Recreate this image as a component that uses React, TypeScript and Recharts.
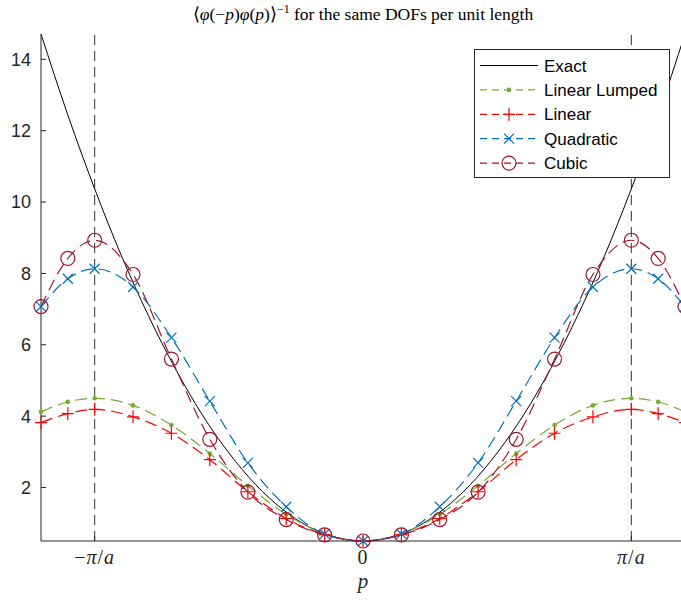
import React from "react";
import { LineChart, Line, XAxis, YAxis, ReferenceLine, Legend } from "recharts";

// p is given in units of pi/a
const markerP = [-1.2, -1.1, -1, -0.857, -0.714, -0.571, -0.429, -0.286, -0.143, 0, 0.143, 0.286, 0.429, 0.571, 0.714, 0.857, 1, 1.1, 1.2];
const lumped = [4.12, 4.4, 4.5, 4.3, 3.75, 2.95, 2.05, 1.25, 0.7, 0.5, 0.7, 1.25, 2.05, 2.95, 3.75, 4.3, 4.5, 4.4, 4.12];
const linear = [3.82, 4.07, 4.19, 3.98, 3.52, 2.78, 1.88, 1.13, 0.68, 0.5, 0.68, 1.13, 1.88, 2.78, 3.52, 3.98, 4.19, 4.07, 3.82];
const quadratic = [7.07, 7.85, 8.13, 7.62, 6.2, 4.42, 2.69, 1.46, 0.7, 0.5, 0.7, 1.46, 2.69, 4.42, 6.2, 7.62, 8.13, 7.85, 7.07];
const cubic = [7.07, 8.42, 8.93, 7.97, 5.6, 3.35, 1.87, 1.1, 0.67, 0.5, 0.67, 1.1, 1.87, 3.35, 5.6, 7.97, 8.93, 8.42, 7.07];

const exactP = [-1.2, -1.1, -1, -0.9, -0.8, -0.7, -0.6, -0.5, -0.4, -0.3, -0.2, -0.1, 0, 0.1, 0.2, 0.3, 0.4, 0.5, 0.6, 0.7, 0.8, 0.9, 1, 1.1, 1.2];
const exact = [14.71, 12.44, 10.37, 8.49, 6.82, 5.34, 4.05, 2.97, 2.08, 1.39, 0.89, 0.6, 0.5, 0.6, 0.89, 1.39, 2.08, 2.97, 4.05, 5.34, 6.82, 8.49, 10.37, 12.44, 14.71];

const xTicks = [-1, 0, 1];
const yTicks = [2, 4, 6, 8, 10, 12, 14];

const C_EXACT = "#000000";
const C_LUMPED = "#77AC30";
const C_LINEAR = "#FF0000";
const C_QUAD = "#0072BD";
const C_CUBIC = "#A2142F";
const AXIS = "#262626";
const DASH = "12 6";

const rows = markerP.map((p, i) => ({
  p,
  lumped: lumped[i],
  linear: linear[i],
  quadratic: quadratic[i],
  cubic: cubic[i],
}));
const exactRows = exactP.map((p, i) => ({ p, exact: exact[i] }));

const dotMark = (cx: number, cy: number, k: string) => (
  <circle key={k} cx={cx} cy={cy} r={2.3} fill={C_LUMPED} stroke="none" />
);
const plusMark = (cx: number, cy: number, k: string) => (
  <path key={k} d={`M${cx - 6},${cy}H${cx + 6}M${cx},${cy - 6.5}V${cy + 6.5}`} stroke={C_LINEAR} strokeWidth={1.2} fill="none" />
);
const crossMark = (cx: number, cy: number, k: string) => (
  <path key={k} d={`M${cx - 5},${cy - 5}L${cx + 5},${cy + 5}M${cx - 5},${cy + 5}L${cx + 5},${cy - 5}`} stroke={C_QUAD} strokeWidth={1.2} fill="none" />
);
const circleMark = (cx: number, cy: number, k: string) => (
  <circle key={k} cx={cx} cy={cy} r={7} fill="none" stroke={C_CUBIC} strokeWidth={1.2} />
);

const asDot = (mark: typeof dotMark, name: string) => (props: any) =>
  mark(props.cx, props.cy, `${name}-${props.index}`);

const XTick = (props: any) => {
  const { x, y, payload } = props;
  const v = payload.value;
  return (
    <text x={x} y={y} dy={15} textAnchor="middle" fontFamily="Liberation Serif" fontSize={20} fill={AXIS} letterSpacing={1}>
      {v === 0 ? "0" : (
        <>
          {v < 0 ? "\u2212" : ""}
          <tspan fontStyle="italic">π</tspan>/<tspan fontStyle="italic">a</tspan>
        </>
      )}
    </text>
  );
};

const legendItems = [
  { name: "Exact", color: C_EXACT, dash: undefined, mark: null },
  { name: "Linear Lumped", color: C_LUMPED, dash: "7 5", mark: dotMark },
  { name: "Linear", color: C_LINEAR, dash: "7 5", mark: plusMark },
  { name: "Quadratic", color: C_QUAD, dash: "7 5", mark: crossMark },
  { name: "Cubic", color: C_CUBIC, dash: "7 5", mark: circleMark },
];

function LegendBox() {
  return (
    <svg width={196} height={129} style={{ display: "block" }}>
      <rect x={0.5} y={0.5} width={195} height={128} fill="#fff" stroke={AXIS} strokeWidth={1} />
      {legendItems.map((it, i) => {
        const y = 16.5 + i * 24.4;
        return (
          <g key={it.name}>
            <line x1={6} x2={64} y1={y} y2={y} stroke={it.color} strokeWidth={1.2} strokeDasharray={it.dash} />
            {it.mark ? it.mark(35, y, "lg" + i) : null}
            <text x={70} y={y} dy={6} fontFamily="Liberation Sans" fontSize={17} fill="#000">
              {it.name}
            </text>
          </g>
        );
      })}
    </svg>
  );
}

export default function App() {
  return (
    <div style={{ position: "absolute", left: 0, top: 0, width: 681, height: 600, overflow: "hidden", background: "#fff" }}>
      <div
        style={{
          position: "absolute", left: 0, top: 3, width: 726, textAlign: "center",
          fontFamily: "Liberation Serif", fontSize: 17.5, color: "#000", whiteSpace: "nowrap", lineHeight: "22px", zIndex: 2,
        }}
      >
        ⟨<i>φ</i>(−<i>p</i>)<i>φ</i>(<i>p</i>)⟩<span style={{ fontSize: 12, position: "relative", top: -7 }}>−1</span> for the same DOFs per unit length
      </div>
      <div
        style={{
          position: "absolute", left: 0, top: 570, width: 726, textAlign: "center",
          fontFamily: "Liberation Serif", fontStyle: "italic", fontSize: 21, color: AXIS, lineHeight: "22px",
        }}
      >
        p
      </div>
      <LineChart width={700} height={600} data={rows} margin={{ top: 34, right: 15, bottom: 0, left: 0 }}>
        <XAxis
          dataKey="p" type="number" domain={[-1.2, 1.2]} ticks={xTicks} height={59}
          tickSize={-5} tickMargin={13} tick={<XTick />} stroke={AXIS} interval={0}
        />
        <XAxis
          xAxisId="top" orientation="top" dataKey="p" type="number" domain={[-1.2, 1.2]} ticks={xTicks}
          height={0} tickSize={-5} tick={false} stroke={AXIS} interval={0}
        />
        <YAxis
          type="number" domain={[0.5, 14.71]} ticks={yTicks} width={41} tickSize={-5} tickMargin={15}
          tick={{ fill: AXIS, fontSize: 18, fontFamily: "Liberation Sans" }} stroke={AXIS} interval={0}
        />
        <YAxis
          yAxisId="right" orientation="right" type="number" domain={[0.5, 14.71]} ticks={yTicks} width={0}
          tickSize={-5} tick={false} stroke={AXIS} interval={0}
        />
        <ReferenceLine x={-1} stroke="#333" strokeWidth={1} strokeDasharray="10 6" />
        <ReferenceLine x={1} stroke="#333" strokeWidth={1} strokeDasharray="10 6" />
        <Line data={exactRows} dataKey="exact" type="monotone" stroke={C_EXACT} strokeWidth={1} dot={false} isAnimationActive={false} />
        <Line dataKey="lumped" type="monotone" stroke={C_LUMPED} strokeWidth={1.2} strokeDasharray={DASH} dot={asDot(dotMark, "lu")} isAnimationActive={false} />
        <Line dataKey="linear" type="monotone" stroke={C_LINEAR} strokeWidth={1.2} strokeDasharray={DASH} dot={asDot(plusMark, "li")} isAnimationActive={false} />
        <Line dataKey="quadratic" type="monotone" stroke={C_QUAD} strokeWidth={1.2} strokeDasharray={DASH} dot={asDot(crossMark, "qu")} isAnimationActive={false} />
        <Line dataKey="cubic" type="monotone" stroke={C_CUBIC} strokeWidth={1.2} strokeDasharray={DASH} dot={asDot(circleMark, "cu")} isAnimationActive={false} />
        <Legend
          layout="vertical" align="center" verticalAlign="middle"
          content={() => <LegendBox />}
          wrapperStyle={{ position: "absolute", left: 474, top: 49, width: 196, height: 129 }}
        />
      </LineChart>
    </div>
  );
}
